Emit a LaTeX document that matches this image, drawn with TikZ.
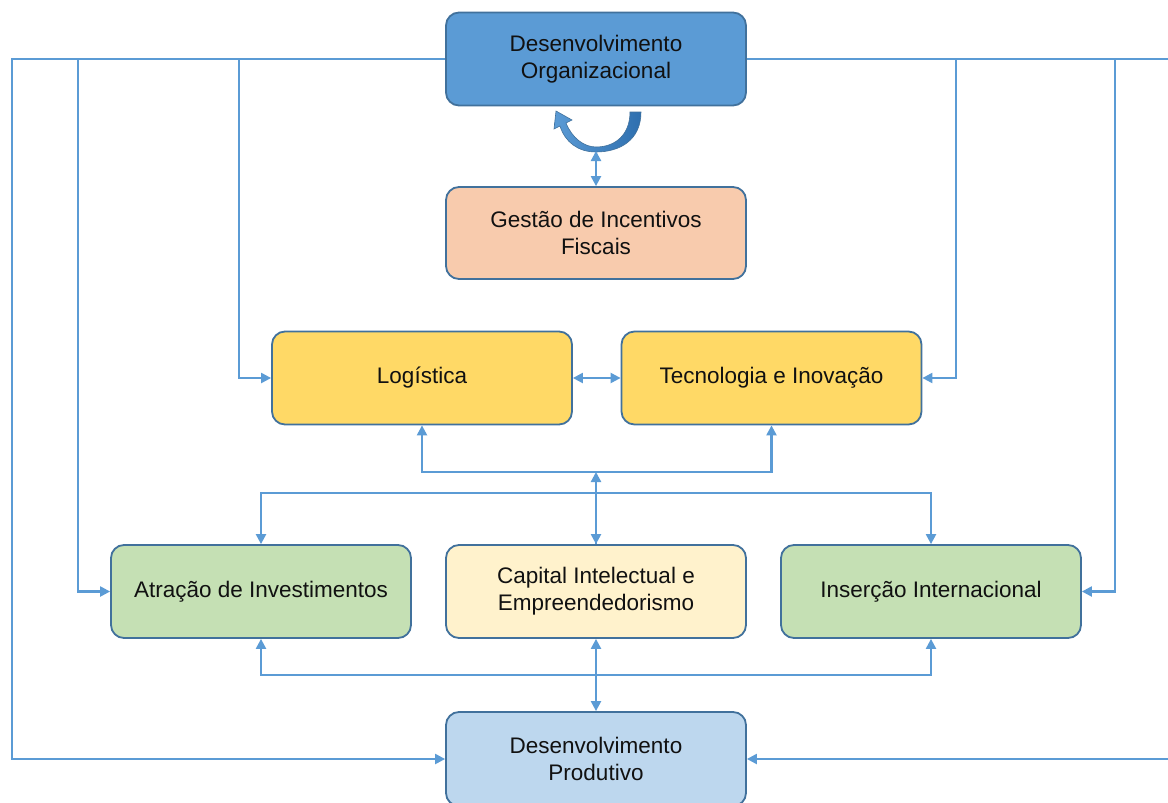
\documentclass[tikz,border=0pt]{standalone}
\usepackage{fontspec}
\setmainfont{Liberation Sans}
\usetikzlibrary{arrows.meta}

\definecolor{linkblue}{HTML}{5B9BD5}
\definecolor{edgeblue}{HTML}{41719C}
\definecolor{orgblue}{HTML}{5B9BD5}
\definecolor{fiscal}{HTML}{F8CBAD}
\definecolor{gold}{HTML}{FFD966}
\definecolor{sage}{HTML}{C5E0B4}
\definecolor{cream}{HTML}{FFF2CC}
\definecolor{paleblue}{HTML}{BDD7EE}
\definecolor{ink}{HTML}{111111}
\definecolor{arcdark}{HTML}{2E6FAF}

\tikzset{
  block/.style={draw=edgeblue, line width=1.8pt, rounded corners=13pt,
    minimum width=300pt, minimum height=93pt, inner sep=0pt,
    align=center, text=ink, font=\fontsize{22.5}{27}\selectfont},
  link/.style={draw=linkblue, line width=2.2pt},
  tip/.style={-{Triangle[length=10pt,width=10pt]}},
  tips/.style={{Triangle[length=10pt,width=10pt]}-{Triangle[length=10pt,width=10pt]}},
}

\begin{document}
\begin{tikzpicture}[x=1pt,y=-1pt]
\clip (0,0) rectangle (1168,803);
\fill[white] (0,0) rectangle (1168,803);

% rails and bus positions
\coordinate (lrail) at (12,0);
\coordinate (latr) at (78,0);
\coordinate (llog) at (239,0);
\coordinate (rtec) at (956,0);
\coordinate (rins) at (1115,0);
\coordinate (rrail) at (1185,0);
\coordinate (hubA) at (596,472);
\coordinate (hubB) at (596,493);
\coordinate (hubC) at (596,675);
\coordinate (arcb) at (596,151);

% boxes
\node[block, fill=orgblue] (do) at (596,59) {Desenvolvimento\\Organizacional};
\node[block, fill=fiscal, minimum height=92pt] (gif) at (596,233) {Gestão de Incentivos\\Fiscais};
\node[block, fill=gold] (log) at (422,378) {Logística};
\node[block, fill=gold] (tec) at (771.5,378) {Tecnologia e Inovação};
\node[block, fill=sage] (atr) at (261,591.5) {Atração de Investimentos};
\node[block, fill=cream] (cap) at (596,591.5) {Capital Intelectual e\\Empreendedorismo};
\node[block, fill=sage] (ins) at (931,591.5) {Inserção Internacional};
\node[block, fill=paleblue, minimum height=94pt] (dp) at (596,759) {Desenvolvimento\\Produtivo};

% curved self-feedback arrow under the top box
\shade[left color=linkblue, right color=arcdark, draw=edgeblue, line width=0.6pt]
  (641,112) .. controls (641,140) and (620,152) .. (596,152)
  .. controls (578,152) and (565,142) .. (560,126)
  -- (554,129) -- (556,111) -- (572,120) -- (566,123)
  .. controls (572,138) and (584,147) .. (596,147)
  .. controls (615,147) and (630,135) .. (630,112) -- cycle;

% top box down to the incentives box
\draw[link, tips] (arcb) -- (gif.north);

% left side feedback lines
\draw[link, tip] (do.west) -- (do.west -| lrail) -- (dp.west -| lrail) -- (dp.west);
\draw[link, tip] (do.west -| latr) -- (atr.west -| latr) -- (atr.west);
\draw[link, tip] (do.west -| llog) -- (log.west -| llog) -- (log.west);

% right side feedback lines
\draw[link, tip] (do.east) -- (do.east -| rrail) -- (dp.east -| rrail) -- (dp.east);
\draw[link, tip] (do.east -| rtec) -- (tec.east -| rtec) -- (tec.east);
\draw[link, tip] (do.east -| rins) -- (ins.east -| rins) -- (ins.east);

% links among the middle boxes
\draw[link, tips] (log.east) -- (tec.west);
\draw[link, tips] (log.south) |- (hubA) -| (tec.south);
\draw[link, tip] (cap.north) -- (hubA);
\draw[link, tip] (hubB) -- (cap.north);
\draw[link, tips] (atr.north) |- (hubB) -| (ins.north);
\draw[link, tips] (atr.south) |- (hubC) -| (ins.south);
\draw[link, tips] (cap.south) -- (dp.north);
\end{tikzpicture}
\end{document}
